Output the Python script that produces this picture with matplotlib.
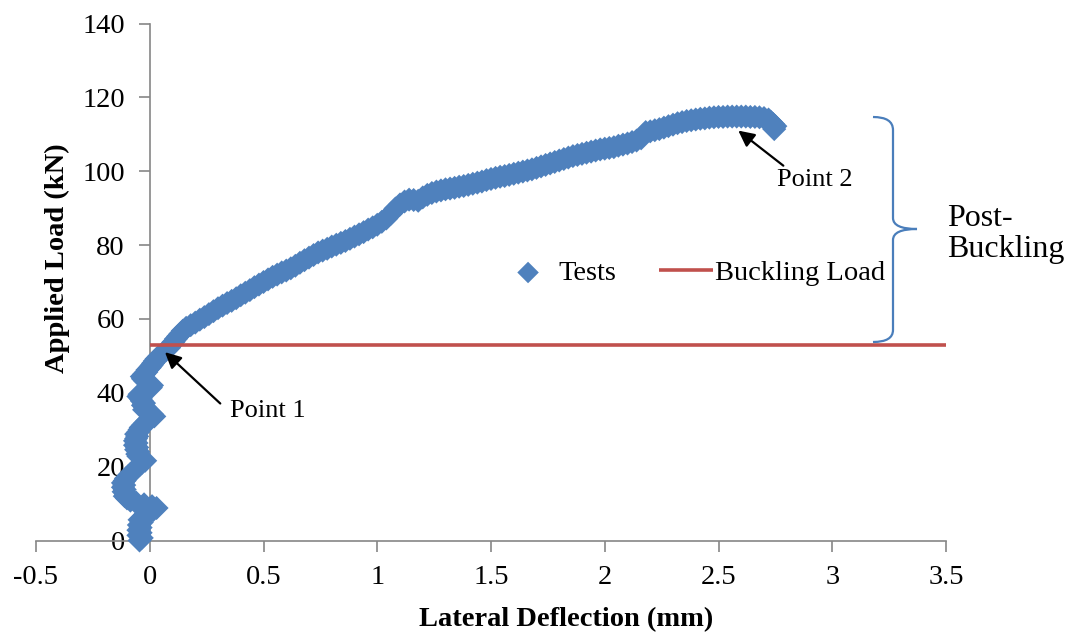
import matplotlib
matplotlib.use("Agg")
import matplotlib.pyplot as plt
from matplotlib.path import Path
from matplotlib.patches import PathPatch

plt.rcParams['font.family'] = ['Liberation Serif', 'DejaVu Serif']

# ---- data ----
test_x = [-0.045, -0.035, -0.050, -0.040, -0.050, -0.040, -0.048, -0.035, -0.045, -0.030,
          -0.020, -0.005, 0.015, 0.030, 0.010, -0.025, -0.060, -0.085, -0.100, -0.110,
          -0.105, -0.115, -0.110, -0.118, -0.112, -0.118, -0.110, -0.105, -0.095, -0.085,
          -0.075, -0.065, -0.055, -0.045, -0.035, -0.020, -0.035, -0.050, -0.055, -0.050,
          -0.060, -0.055, -0.065, -0.058, -0.065, -0.060, -0.055, -0.060, -0.050, -0.045,
          -0.040, -0.030, -0.020, -0.010, 0.005, 0.020, 0.010, -0.010, -0.025, -0.020,
          -0.030, -0.025, -0.035, -0.040, -0.050, -0.045, -0.030, -0.010, 0.005, 0.010,
          -0.005, -0.020, -0.030, -0.035, -0.025, -0.015, -0.010, 0.000, 0.008, 0.015,
          0.022, 0.030, 0.040, 0.055, 0.070, 0.085, 0.095, 0.105, 0.115, 0.125,
          0.135, 0.145,
          0.16, 0.18, 0.20, 0.22, 0.24, 0.26, 0.28, 0.30, 0.32, 0.34,
          0.36, 0.38, 0.40, 0.42, 0.44, 0.46, 0.48, 0.50, 0.52, 0.54,
          0.56, 0.58, 0.60, 0.62, 0.64, 0.66, 0.68, 0.70, 0.72, 0.74,
          0.76, 0.78, 0.80, 0.82, 0.84, 0.86, 0.88, 0.90, 0.92, 0.94,
          0.96, 0.98, 1.00, 1.02, 1.04, 1.06, 1.08, 1.10, 1.12, 1.14,
          1.16, 1.18, 1.20, 1.22, 1.24, 1.26, 1.28, 1.30, 1.32, 1.34,
          1.36, 1.38, 1.40, 1.42, 1.44, 1.46, 1.48, 1.50, 1.52, 1.54,
          1.56, 1.58, 1.60, 1.62, 1.64, 1.66, 1.68, 1.70, 1.72, 1.74,
          1.76, 1.78, 1.80, 1.82, 1.84, 1.86, 1.88, 1.90, 1.92, 1.94,
          1.96, 1.98, 2.00, 2.02, 2.04, 2.06, 2.08, 2.10, 2.12, 2.14,
          2.16, 2.17, 2.18, 2.20, 2.22, 2.24, 2.26, 2.28, 2.30, 2.32,
          2.34, 2.36, 2.38, 2.40, 2.42, 2.44, 2.46, 2.48, 2.50, 2.52,
          2.54, 2.56, 2.58, 2.60, 2.62, 2.64, 2.66, 2.68, 2.70, 2.72,
          2.73, 2.74, 2.75, 2.745]
test_y = [0.0, 0.7, 1.4, 2.1, 2.8, 3.5, 4.2, 4.9, 5.6, 6.3,
          7.0, 7.6, 8.2, 8.8, 9.3, 9.8, 10.3, 10.8, 11.4, 12.0,
          12.6, 13.2, 13.8, 14.4, 15.0, 15.6, 16.2, 16.8, 17.4, 18.0,
          18.6, 19.2, 19.8, 20.4, 21.0, 21.6, 22.2, 22.8, 23.4, 24.0,
          24.6, 25.2, 25.8, 26.4, 27.0, 27.6, 28.2, 28.8, 29.4, 30.0,
          30.6, 31.2, 31.8, 32.4, 33.0, 33.6, 34.2, 34.8, 35.4, 36.0,
          36.6, 37.2, 37.8, 38.4, 39.0, 39.6, 40.2, 40.8, 41.4, 42.0,
          42.6, 43.2, 43.8, 44.4, 45.0, 45.6, 46.2, 46.8, 47.4, 48.0,
          48.6, 49.2, 49.8, 50.6, 51.4, 52.2, 53.0, 53.8, 54.6, 55.3,
          56.0, 56.8,
          57.6, 58.3, 59.0, 59.8, 60.5, 61.3, 62.1, 62.9, 63.6, 64.3,
          64.9, 65.6, 66.4, 67.1, 67.8, 68.6, 69.3, 70.0, 70.7, 71.4,
          72.0, 72.6, 73.1, 73.7, 74.4, 75.2, 75.9, 76.6, 77.3, 78.0,
          78.5, 79.0, 79.6, 80.1, 80.6, 81.1, 81.7, 82.3, 82.9, 83.5,
          84.2, 84.8, 85.5, 86.3, 87.2, 88.5, 89.9, 91.0, 91.8, 92.3,
          92.2, 92.0, 92.9, 93.6, 94.1, 94.5, 94.8, 95.1, 95.3, 95.5,
          95.8, 96.0, 96.3, 96.6, 96.9, 97.2, 97.6, 97.9, 98.2, 98.5,
          98.7, 99.0, 99.3, 99.6, 99.9, 100.2, 100.5, 100.9, 101.3, 101.7,
          102.1, 102.5, 102.9, 103.3, 103.7, 104.1, 104.4, 104.7, 105.0, 105.3,
          105.6, 105.9, 106.1, 106.3, 106.5, 106.9, 107.2, 107.5, 107.9, 108.3,
          108.9, 109.8, 110.6, 110.8, 111.1, 111.4, 111.8, 112.2, 112.6, 113.0,
          113.3, 113.6, 113.8, 114.0, 114.2, 114.3, 114.5, 114.6, 114.7, 114.7,
          114.8, 114.8, 114.8, 114.8, 114.8, 114.7, 114.7, 114.6, 114.4, 114.0,
          113.4, 112.8, 112.2, 111.4]
buckling_x = [0.0, 3.5]
buckling_y = [53.0, 53.0]
x_ticks = [-0.5, 0, 0.5, 1, 1.5, 2, 2.5, 3, 3.5]
x_tick_labels = ['-0.5', '0', '0.5', '1', '1.5', '2', '2.5', '3', '3.5']
y_ticks = [0, 20, 40, 60, 80, 100, 120, 140]
y_tick_labels = ['0', '20', '40', '60', '80', '100', '120', '140']

W, H = 1075, 637
fig = plt.figure(figsize=(W / 100, H / 100), dpi=100)
ax = fig.add_axes([36 / W, (H - 540.5) / H, 910 / W, 517 / H])
ax.set_xlim(-0.5, 3.5)
ax.set_ylim(0, 140)

blue = '#4F81BD'
red = '#C0504D'
grey = '#868686'

ax.scatter(test_x, test_y, marker='D', s=150, color=blue, edgecolors='none',
           zorder=3, label='Tests', clip_on=False)
ax.plot(buckling_x, buckling_y, color=red, lw=2.6, zorder=4, label='Buckling Load',
        solid_capstyle='butt')

for s in ['top', 'right']:
    ax.spines[s].set_visible(False)
ax.spines['left'].set_position(('data', 0))
for s in ['left', 'bottom']:
    ax.spines[s].set_color(grey)
    ax.spines[s].set_linewidth(1.2)

ax.set_xticks(x_ticks)
ax.set_xticklabels(x_tick_labels)
ax.set_yticks(y_ticks)
ax.set_yticklabels(y_tick_labels)
ax.tick_params(axis='both', direction='out', length=8, width=1.2, color=grey,
               labelsize=20.5, labelcolor='black')
ax.tick_params(axis='x', pad=10)
ax.tick_params(axis='y', pad=10)

fig.text(566 / W, 1 - 620 / H, 'Lateral Deflection (mm)', ha='center', va='center',
         fontsize=20.5, fontweight='bold')
fig.text(57 / W, 1 - 258 / H, 'Applied Load (kN)', ha='center', va='center',
         rotation=90, fontsize=20.5, fontweight='bold')

leg = ax.legend(loc='center left', bbox_to_anchor=(501 / W, 1 - 273 / H),
                bbox_transform=fig.transFigure, ncol=2, frameon=False,
                fontsize=20.5, borderpad=0, borderaxespad=0, handlelength=1.9,
                handletextpad=0.1, columnspacing=1.5)
leg.legend_handles[0].set_sizes([120])

# arrows and annotations
ax.annotate('', xy=(0.067, 51.0), xytext=(0.31, 37.1),
            arrowprops=dict(arrowstyle='-|>', color='black', lw=1.6,
                            mutation_scale=24, shrinkA=0, shrinkB=0), zorder=6)
ax.text(0.353, 35.2, 'Point 1', ha='left', va='center', fontsize=19)
ax.annotate('', xy=(2.587, 111.0), xytext=(2.785, 101.5),
            arrowprops=dict(arrowstyle='-|>', color='black', lw=1.6,
                            mutation_scale=24, shrinkA=0, shrinkB=0), zorder=6)
ax.text(2.757, 97.5, 'Point 2', ha='left', va='center', fontsize=19)

# brace
def P(px, py):
    return (px / W, 1 - py / H)

verts = [P(873, 117), P(893, 117), P(893, 130), P(893, 218), P(893, 229), P(917, 229),
         P(893, 229), P(893, 240), P(893, 330), P(893, 342), P(873, 342)]
codes = [Path.MOVETO, Path.CURVE3, Path.CURVE3, Path.LINETO, Path.CURVE3, Path.CURVE3,
         Path.CURVE3, Path.CURVE3, Path.LINETO, Path.CURVE3, Path.CURVE3]
brace = PathPatch(Path(verts, codes), transform=fig.transFigure, fill=False,
                  edgecolor='#4A7EBB', lw=1.6)
fig.patches.append(brace)

fig.text(947 / W, 1 - 204 / H, 'Post-\nBuckling', ha='left', va='top', fontsize=23,
         linespacing=1.1)

fig.savefig('out.png', dpi=100)
